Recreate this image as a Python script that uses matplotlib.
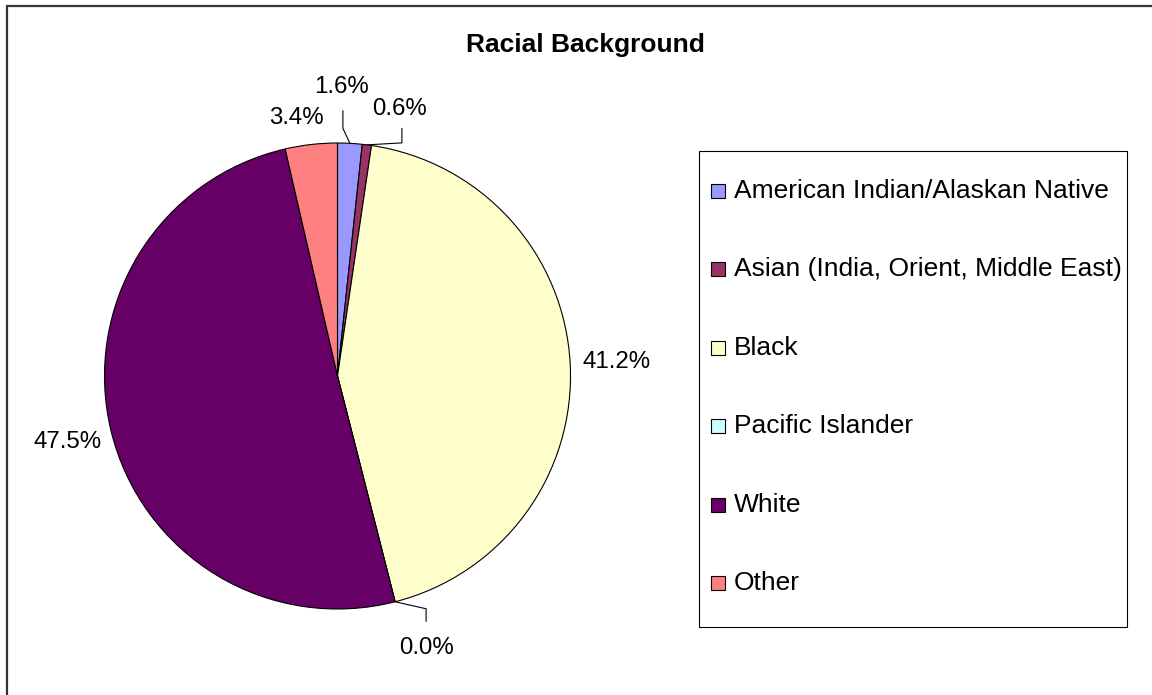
import numpy as np
import matplotlib
matplotlib.use("Agg")
import matplotlib.pyplot as plt
from matplotlib.patches import Rectangle

plt.rcParams['font.family'] = ['Liberation Sans', 'DejaVu Sans']

# ---- data ----
categories = ["American Indian/Alaskan Native", "Asian (India, Orient, Middle East)",
              "Black", "Pacific Islander", "White", "Other"]
values = [1.6, 0.6, 41.2, 0.0, 47.5, 3.4]
value_labels = ["1.6%", "0.6%", "41.2%", "0.0%", "47.5%", "3.4%"]
colors = ["#9999FF", "#993366", "#FFFFCC", "#CCFFFF", "#660066", "#FF8080"]
title = "Racial Background"

W, H = 1152, 695
fig = plt.figure(figsize=(W / 100, H / 100), dpi=100)
ax = fig.add_axes([0, 0, 1, 1])

cx, cy, R = 337.5, H - 376, 233
wedges, _ = ax.pie(values, colors=colors, startangle=90, counterclock=False,
                   center=(cx, cy), radius=R,
                   wedgeprops=dict(edgecolor='black', linewidth=0.8))
ax.set_xlim(0, W)
ax.set_ylim(0, H)
ax.set_aspect('auto')
ax.axis('off')

# label placement: offsets (pixels) from the rim point at each wedge's mid-angle
text_offsets = [(-8, 56), (33, 36), (46, 2), (31, -46), (-44, -11), (-15, 26)]
leaders = {0: [(-7, 15), (-7, 33)],
           1: [(35, 2), (35, 17)],
           3: [(31, -7), (31, -20)]}
for i, w in enumerate(wedges):
    mid = np.deg2rad((w.theta1 + w.theta2) / 2)
    rx, ry = cx + R * np.cos(mid), cy + R * np.sin(mid)
    dx, dy = text_offsets[i]
    ax.text(rx + dx, ry + dy, value_labels[i], ha='center', va='center',
            fontsize=17.3, color='black')
    if i in leaders:
        pts = [(rx, ry)] + [(rx + a, ry + b) for a, b in leaders[i]]
        xs, ys = zip(*pts)
        ax.plot(xs, ys, color='black', lw=0.8, solid_capstyle='butt')

# title
ax.text(585, H - 52, title, ha='center', va='baseline', fontsize=19,
        fontweight='bold')

# outer frame (chart area border)
ax.plot([7, 7, W + 5], [-5, H - 6, H - 6], color='#333333', lw=1.6,
        solid_joinstyle='miter')

# legend (drawn manually to match the original box layout)
lx0, ly0, lx1, ly1 = 699, 151, 1127, 627
ax.add_patch(Rectangle((lx0, H - ly1), lx1 - lx0, ly1 - ly0, fill=False,
                       edgecolor='black', lw=0.8))
row_gap = 78.4
for i, (cat, w) in enumerate(zip(categories, wedges)):
    base = 198 + row_gap * i
    ax.add_patch(Rectangle((711, H - base), 14, 14, facecolor=w.get_facecolor(),
                           edgecolor='black', lw=0.8))
    ax.text(734, H - base, cat, ha='left', va='baseline', fontsize=19,
            color='black')

fig.savefig("out.png", dpi=100, facecolor='white')
